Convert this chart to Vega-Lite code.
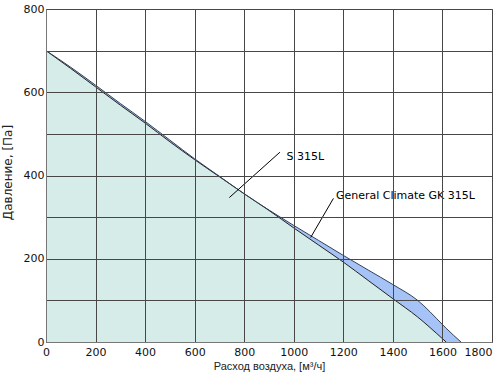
{
  "$schema": "https://vega.github.io/schema/vega-lite/v6.json",
  "autosize": {"type": "none"},
  "padding": {"left": 46, "top": 9, "right": 8, "bottom": 34},
  "width": 446,
  "height": 333,
  "background": "white",
  "config": {
    "view": {"stroke": "#8a8a8a", "strokeWidth": 1},
    "font": "DejaVu Sans"
  },
  "datasets": {
    "curves": [
      {"flow": 0, "S": 700, "GK": 700},
      {"flow": 100, "S": 657, "GK": 660},
      {"flow": 200, "S": 613, "GK": 617},
      {"flow": 300, "S": 569, "GK": 573},
      {"flow": 400, "S": 526, "GK": 530},
      {"flow": 500, "S": 481, "GK": 485},
      {"flow": 600, "S": 438, "GK": 440},
      {"flow": 700, "S": 397, "GK": 398},
      {"flow": 800, "S": 356, "GK": 356},
      {"flow": 900, "S": 316, "GK": 317},
      {"flow": 1000, "S": 274, "GK": 280},
      {"flow": 1100, "S": 233, "GK": 244},
      {"flow": 1200, "S": 192, "GK": 208},
      {"flow": 1300, "S": 148, "GK": 173},
      {"flow": 1400, "S": 104, "GK": 138},
      {"flow": 1500, "S": 60, "GK": 100},
      {"flow": 1600, "S": 8, "GK": 42},
      {"flow": 1615, "S": 0, "GK": 33},
      {"flow": 1675, "S": 0, "GK": 0}
    ],
    "leaders": [
      {"x1": 740, "y1": 347, "x2": 944, "y2": 456},
      {"x1": 1068, "y1": 251, "x2": 1160, "y2": 345}
    ],
    "labels": [
      {"x": 971, "y": 444, "name": "S 315L"},
      {"x": 1170, "y": 351, "name": "General Climate GK 315L"}
    ]
  },
  "layer": [
    {
      "data": {"name": "curves"},
      "mark": {"type": "area", "color": "#d6ece8", "interpolate": "monotone"},
      "encoding": {
        "x": {
          "field": "flow", "type": "quantitative",
          "scale": {"domain": [0, 1800], "nice": false},
          "axis": {
            "values": [0,100,200,300,400,500,600,700,800,900,1000,1100,1200,1300,1400,1500,1600,1700,1800],
            "labelExpr": "datum.value % 200 === 0 ? datum.label : ''",
            "labelAlign": {"expr": "datum.value === 1800 ? 'right' : 'center'"},
            "format": "d",
            "ticks": false,
            "labelPadding": 4,
            "labelFont": "DejaVu Sans",
            "labelFontSize": 11,
            "labelColor": "#111",
            "grid": true,
            "gridColor": "#474747",
            "gridWidth": 1,
            "gridOpacity": 1,
            "domainColor": "#777",
            "zindex": 1,
            "title": "Расход воздуха, [м³/ч]",
            "titleFont": "Liberation Sans",
            "titleFontSize": 11,
            "titleFontWeight": "normal",
            "titleColor": "#222",
            "titlePadding": 3
          }
        },
        "y": {
          "field": "S", "type": "quantitative",
          "scale": {"domain": [0, 800], "nice": false},
          "axis": {
            "values": [0,100,200,300,400,500,600,700,800],
            "labelExpr": "datum.value % 200 === 0 ? datum.label : ''",
            "ticks": false,
            "labelPadding": 2,
            "labelFont": "DejaVu Sans",
            "labelFontSize": 11,
            "labelColor": "#111",
            "grid": true,
            "gridColor": "#474747",
            "gridWidth": 1,
            "gridOpacity": 1,
            "domainColor": "#777",
            "zindex": 1,
            "title": "Давление, [Па]",
            "titleFont": "DejaVu Sans",
            "titleFontSize": 12,
            "titleFontWeight": "normal",
            "titleColor": "#222",
            "titleX": -32,
            "titleY": 163,
            "titleBaseline": "bottom"
          }
        },
        "y2": {"datum": 0}
      }
    },
    {
      "data": {"name": "curves"},
      "mark": {"type": "area", "color": "#a6c3f7", "interpolate": "monotone"},
      "encoding": {
        "x": {"field": "flow", "type": "quantitative"},
        "y": {"field": "GK", "type": "quantitative"},
        "y2": {"field": "S"}
      }
    },
    {
      "data": {"name": "curves"},
      "transform": [{"filter": "datum.flow <= 1615"}],
      "mark": {"type": "line", "color": "#222", "strokeWidth": 1, "interpolate": "monotone"},
      "encoding": {
        "x": {"field": "flow", "type": "quantitative"},
        "y": {"field": "S", "type": "quantitative"}
      }
    },
    {
      "data": {"name": "curves"},
      "mark": {"type": "line", "color": "#33415a", "strokeWidth": 1, "interpolate": "monotone"},
      "encoding": {
        "x": {"field": "flow", "type": "quantitative"},
        "y": {"field": "GK", "type": "quantitative"}
      }
    },
    {
      "data": {"name": "leaders"},
      "mark": {"type": "rule", "color": "#000", "strokeWidth": 1},
      "encoding": {
        "x": {"field": "x1", "type": "quantitative"},
        "y": {"field": "y1", "type": "quantitative"},
        "x2": {"field": "x2"},
        "y2": {"field": "y2"}
      }
    },
    {
      "data": {"name": "labels"},
      "mark": {"type": "text", "align": "left", "baseline": "middle", "font": "DejaVu Sans", "fontSize": 11, "color": "#000"},
      "encoding": {
        "x": {"field": "x", "type": "quantitative"},
        "y": {"field": "y", "type": "quantitative"},
        "text": {"field": "name"}
      }
    }
  ]
}
